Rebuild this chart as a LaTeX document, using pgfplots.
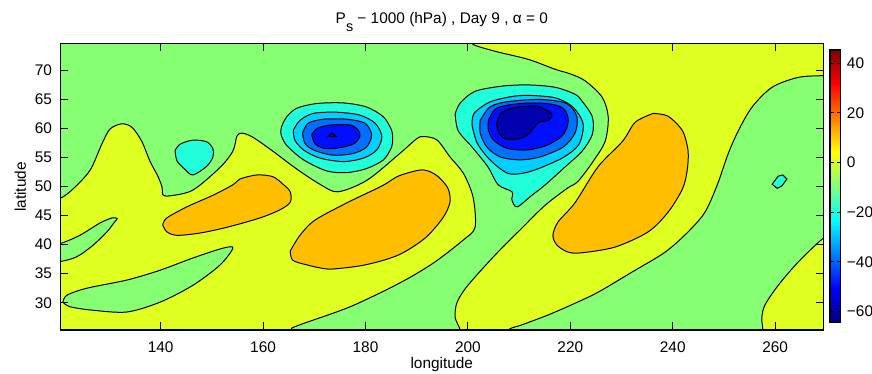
\documentclass[border=0pt]{standalone}
\usepackage{fontspec}
\setmainfont{Liberation Sans}
\usepackage{pgfplots}
\pgfplotsset{compat=1.18}
\definecolor{cM60}{rgb}{0,0,0.6875}
\definecolor{cM50}{rgb}{0,0.0625,1}
\definecolor{cM40}{rgb}{0,0.4375,1}
\definecolor{cM30}{rgb}{0,0.8125,1}
\definecolor{cM20}{rgb}{0.125,1,0.85}
\definecolor{cM10}{rgb}{0.53,1,0.45}
\definecolor{cP0}{rgb}{0.875,1,0.125}
\definecolor{cP10}{rgb}{1,0.75,0}
\newcommand{\fs}{\fontsize{7.7pt}{9pt}\selectfont}
\begin{document}
\begin{tikzpicture}
\useasboundingbox (0,0) rectangle (436pt,187pt);
\begin{axis}[
  at={(30.15pt,22pt)}, anchor=south west,
  scale only axis, width=381.5pt, height=143.15pt,
  xmin=120.4, xmax=269.4, ymin=25.3, ymax=74.6,
  xtick={140,160,...,260}, ytick={30,35,...,70},
  tick align=inside, major tick length=3.8pt,
  /pgf/number format/assume math mode=true,
  ticklabel style={font=\fs},
  xticklabel style={yshift=-2.4pt},
  yticklabel style={xshift=-0.6pt},
  axis line style={line width=0.6pt},
  every tick/.style={black, line width=0.5pt},
  axis background/.style={fill=cM10},
  axis on top,
  colorbar, colormap/jet,
  point meta min=-64.4, point meta max=45.4,
  colorbar style={
    at={(parent axis.east)}, anchor=west, xshift=-5.2pt, yshift=0.35pt,
    scale only axis, width=5.35pt, height=136.15pt,
    ytick={-60,-40,...,40},
    yticklabels={−60,−40,−20,0,20,40},
    ytick pos=both, yticklabel pos=right,
    tick align=inside, major tick length=2pt,
    yticklabel style={font=\fs, xshift=-0.4pt},
    axis line style={line width=0.6pt},
  },
  cont/.style={draw=black, line width=0.5pt, smooth, tension=0.5},
]
% yellow region A (0 to 10)
\addplot[cont, fill=cP0] coordinates {
 (118,48.0) (120.4,48.0) (122.9,49.6) (126.2,52.8) (128.5,57.3) (130.1,59.9) (132.4,60.8)
 (134.4,60.2) (136.3,57.8) (137.9,54.4) (139.5,51.7) (140.3,49.8) (140.4,48.6) (141.8,48.4)
 (146.3,49.4) (151.6,53.3) (154.1,56.1) (154.9,58.7) (155.9,59.2) (158.0,58.5) (161.9,56.1)
 (166.6,53.0) (171.1,50.4) (174.6,49.1) (180.3,51.1) (186.7,55.7) (190.1,58.3) (191.6,58.6)
 (194.0,58.0) (196.5,55.1) (199.1,52.3) (201.0,48.2) (201.4,43.0) (199.1,40.8) (193.2,36.8)
 (186.7,33.4) (177.0,29.3) (167.2,26.2) (165.3,25.3) (165.0,23) (118,23) (118,48.0)} -- cycle;
% green islands inside A
\addplot[cont, fill=cM10] coordinates {
 (118,40.2) (120.4,40.2) (124.2,41.6) (128.1,43.7) (130.5,44.6) (131.5,44.5) (131.0,43.9)
 (129.5,42.2) (126.8,39.9) (123.6,37.9) (120.4,37.1) (118,37.1) (118,40.2)} -- cycle;
\addplot[cont, fill=cM10] coordinates {
 (120.9,30.1) (121.7,31.3) (125.6,32.5) (133.4,33.9) (139.9,35.6) (146.3,37.7) (152.2,39.4)
 (154.1,39.4) (151.6,36.5) (146.3,33.0) (139.9,30.1) (133.4,28.4) (126.8,28.7) (122.3,29.3)
 (120.9,30.1)} -- cycle;
% orange O1, O2
\addplot[cont, fill=cP10] coordinates {
 (140.4,43.4) (141.2,44.6) (145.1,46.5) (150.2,48.5) (154.1,50.3) (155.5,51.3) (158.8,52.0)
 (161.9,51.7) (163.9,50.4) (165.3,49.1) (165.3,47.3) (163.3,46.0) (159.4,44.6) (153.0,43.0)
 (147.7,42.0) (143.2,41.6) (141.2,42.2) (140.4,43.4)} -- cycle;
\addplot[cont, fill=cP10] coordinates {
 (165.3,38.9) (165.8,37.3) (168.6,36.5) (171.1,36.0) (173.5,35.8) (179.9,36.5) (186.4,38.2)
 (191.6,41.1) (195.1,44.6) (196.5,47.3) (196.1,49.7) (194.2,51.7) (192.2,52.7) (190.3,52.8)
 (186.4,51.8) (183.2,50.1) (176.6,47.3) (170.1,44.2) (167.2,41.6) (165.3,38.9)} -- cycle;
% yellow region B
\addplot[cont, fill=cP0] coordinates {
 (200.5,76.5) (200.8,74.6) (205.3,73.3) (211.8,71.9) (217.0,70.2) (220.0,69.4) (222.9,68.2)
 (226.2,65.4) (227.4,62.0) (226.8,57.8) (224.5,54.4) (221.5,50.9) (219.4,49.7) (215.1,46.8)
 (210.6,42.9) (205.3,38.2) (200.0,33.0) (197.9,30.1) (197.5,27.5) (198.5,25.3) (198.7,23)
 (271,23) (271,76.5) (200.5,76.5)} -- cycle;
% green region D
\addplot[cont, fill=cM10] coordinates {
 (207.9,23) (207.9,25.3) (210.6,26.2) (215.7,27.9) (220.9,29.9) (225.4,31.8) (232.1,35.3)
 (238.5,38.7) (243.0,42.2) (246.3,45.6) (248.7,50.3) (250.8,55.6) (252.8,59.6) (255.5,63.7)
 (259.4,67.1) (264.5,68.8) (269.4,69.1) (271,69.1) (271,41.1) (269.4,41.1) (264.5,37.0)
 (260.6,33.0) (258.0,29.6) (257.4,27.4) (257.6,25.3) (257.6,23) (207.9,23)} -- cycle;
% orange C
\addplot[cont, fill=cP10] coordinates {
 (236.2,62.6) (239.1,62.1) (241.9,59.6) (243.0,56.1) (242.8,52.7) (241.9,49.6) (239.1,45.6)
 (235.2,42.2) (228.8,39.6) (222.3,38.6) (219.6,38.7) (217.4,39.9) (216.6,41.6) (217.6,43.9)
 (220.9,47.2) (225.4,53.4) (230.2,57.8) (232.7,61.1) (236.2,62.6)} -- cycle;
% small cyan spots
\addplot[draw=black, line width=0.5pt, fill=cM20] coordinates {
 (259.4,50.4) (260.6,51.8) (261.5,52.0) (262.3,51.3) (261.3,50.1) (260.4,49.7) (259.4,50.4)} -- cycle;
\addplot[cont, fill=cM20] coordinates {
 (142.8,56.2) (143.8,57.3) (146.3,58.0) (149.0,57.7) (150.2,56.5) (150.2,55.1) (149.0,53.5)
 (146.3,52.0) (144.7,53.0) (143.2,54.4) (142.8,56.2)} -- cycle;
% left low
\addplot[cont, fill=cM20] coordinates {
 (163.6,60.3) (164.6,62.0) (166.6,63.5) (170.5,64.3) (175.7,64.4) (180.2,63.7) (183.5,62.0)
 (185.1,59.7) (185.3,58.3) (185.1,56.8) (183.5,54.6) (180.2,53.1) (176.3,52.4) (172.4,52.7)
 (167.9,54.6) (164.6,57.1) (163.5,59.0) (163.6,60.3)} -- cycle;
\addplot[cont, fill=cM30] coordinates {
 (165.9,59.7) (167.2,61.4) (169.8,62.6) (174.4,62.8) (178.9,62.3) (181.9,60.9) (183.2,58.6)
 (182.2,56.3) (179.6,54.9) (175.7,54.3) (171.1,54.9) (167.9,56.3) (166.2,58.0) (165.9,59.7)} -- cycle;
\addplot[cont, fill=cM40] coordinates {
 (167.7,59.2) (168.8,60.9) (171.8,61.6) (176.3,61.6) (179.9,60.9) (181.2,58.9) (180.2,56.8)
 (177.6,55.7) (173.7,55.4) (170.1,56.2) (168.2,57.4) (167.7,59.2)} -- cycle;
\addplot[cont, fill=cM50] coordinates {
 (169.5,58.9) (170.5,60.0) (173.1,60.6) (177.0,60.6) (178.6,59.7) (178.9,58.6) (177.6,57.3)
 (174.4,56.6) (171.8,56.6) (170.1,57.4) (169.5,58.9)} -- cycle;
\addplot[draw=black, line width=0.5pt, fill=cM60] coordinates {
 (172.7,58.6) (173.4,59.3) (174.4,58.6) (172.7,58.6)} -- cycle;
% right low
\addplot[cont, fill=cM20] coordinates {
 (197.5,62.5) (198.5,64.4) (201.4,66.4) (206.7,67.3) (211.8,67.5) (217.0,67.1) (220.9,65.9)
 (222.3,64.7) (224.3,62.0) (224.3,59.0) (222.3,56.1) (219.0,53.4) (215.1,50.3) (212.5,48.5)
 (209.6,46.5) (208.6,47.7) (208.6,49.1) (205.9,50.3) (203.9,53.4) (200.8,56.8) (198.1,59.6)
 (197.5,62.5)} -- cycle;
\addplot[cont, fill=cM30] coordinates {
 (200.8,60.6) (201.2,62.6) (204.1,64.5) (207.9,65.4) (210.8,65.7) (214.1,65.6) (217.4,65.2)
 (220.5,63.7) (222.5,60.8) (221.7,57.3) (218.8,55.1) (214.1,53.2) (210.8,52.3) (207.7,52.3)
 (204.3,54.6) (201.8,57.5) (200.8,60.6)} -- cycle;
\addplot[cont, fill=cM40] coordinates {
 (202.4,61.4) (204.3,63.7) (207.6,64.6) (214.1,65.0) (219.3,64.3) (221.3,62.0) (220.9,59.2)
 (218.6,56.8) (214.1,55.1) (210.2,54.6) (206.3,55.1) (203.7,56.8) (202.4,59.2) (202.4,61.4)} -- cycle;
\addplot[cont, fill=cM50] coordinates {
 (204.0,61.4) (205.6,63.5) (210.2,64.3) (215.4,64.3) (218.6,63.5) (219.6,61.4) (218.6,58.9)
 (215.4,57.1) (211.5,56.3) (207.6,56.6) (205.0,58.0) (204.0,59.7) (204.0,61.4)} -- cycle;
\addplot[cont, fill=cM60] coordinates {
 (205.6,60.8) (206.6,62.8) (209.2,63.6) (212.8,63.9) (214.4,63.6) (216.4,62.5) (215.7,61.4)
 (213.8,61.0) (211.8,59.0) (209.9,58.2) (207.3,58.2) (206.0,59.3) (205.6,60.8)} -- cycle;
\end{axis}
\node[anchor=base, font=\fs] at (220.9pt,175.35pt)
  {P\raisebox{-4.3pt}{\fontsize{7.2pt}{8pt}\selectfont s} − 1000 (hPa) , Day 9 , α = 0};
\node[anchor=base, font=\fs] at (220.9pt,2.6pt) {longitude};
\node[anchor=base, rotate=90, font=\fs] at (13pt,93.5pt) {latitude};
\end{tikzpicture}
\end{document}
